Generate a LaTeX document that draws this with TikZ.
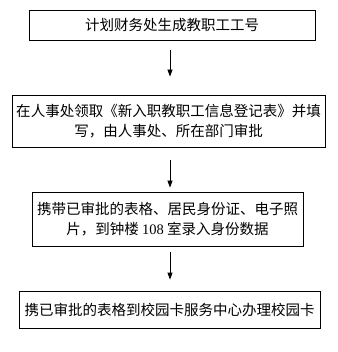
\documentclass[tikz,border=0pt]{standalone}
\usepackage{fontspec}
\newfontfamily\cjk{Noto Sans CJK SC}
\newfontfamily\latinserif{Liberation Serif}
\usetikzlibrary{arrows.meta}
\begin{document}
\begin{tikzpicture}[x=1pt,y=-1pt,
  box/.style={draw=black,line width=0.8pt,inner sep=0pt,align=center,
    font=\cjk\fontsize{14.5}{20}\selectfont},
  arr/.style={line width=0.8pt,-{Triangle[width=5pt,length=7pt]}}]
\useasboundingbox (0,0) rectangle (337,352);
\node[box,minimum width=286pt,minimum height=30pt] (b1) at (172,25) {计划财务处生成教职工工号};
\node[box,minimum width=313pt,minimum height=52pt] (b2) at (168.5,121) {在人事处领取《新入职教职工信息登记表》并填\\写，由人事处、所在部门审批};
\node[box,minimum width=271pt,minimum height=54pt] (b3) at (167.5,219) {携带已审批的表格、居民身份证、电子照\\片，到钟楼 {\latinserif 108} 室录入身份数据};
\node[box,minimum width=301pt,minimum height=37pt] (b4) at (169.5,309.5) {携已审批的表格到校园卡服务中心办理校园卡};
\coordinate (ax) at (170,0);
\draw[arr,shorten <=10pt,shorten >=18pt] (b1.south -| ax) -- (b2.north -| ax);
\draw[arr,shorten <=13pt,shorten >=4pt] (b2.south -| ax) -- (b3.north -| ax);
\draw[arr,shorten <=6pt,shorten >=11pt] (b3.south -| ax) -- (b4.north -| ax);
\end{tikzpicture}
\end{document}
